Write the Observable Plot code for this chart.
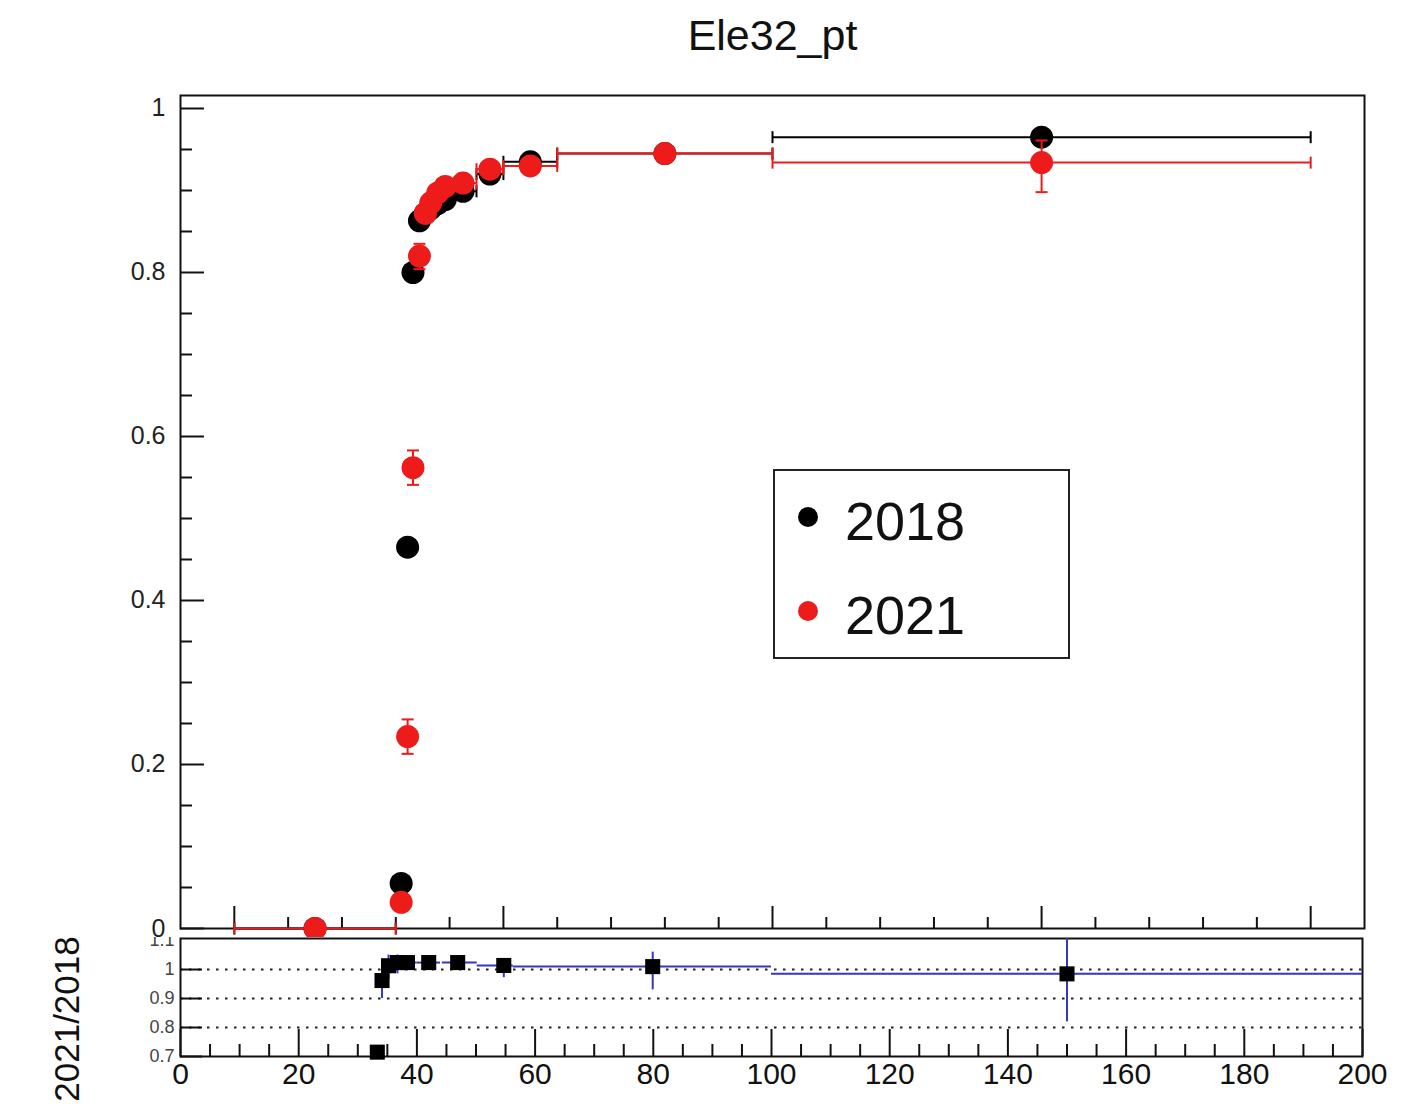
<!DOCTYPE html>
<html><head><meta charset="utf-8">
<script src="https://cdn.jsdelivr.net/npm/d3@7"></script>
<script src="https://cdn.jsdelivr.net/npm/@observablehq/plot@0.6"></script>
<style>
html,body{margin:0;padding:0;background:#fff;}
body{width:1420px;height:1106px;position:relative;overflow:hidden;font-family:"Liberation Sans",Arial,Helvetica,sans-serif;}
.abs{position:absolute;}
#strip{left:0;top:100px;width:21px;height:1006px;background:#dc5b56;}
#stripDark{left:1px;top:110px;width:15px;height:155px;background:#2c3230;}
#ratioLabel{left:66px;top:1019px;transform:translate(-50%,-50%) rotate(-90deg);white-space:nowrap;font-size:35px;line-height:1;color:#111;}
</style></head><body>
<div id="strip" class="abs"></div><div id="stripDark" class="abs"></div>
<div id="bot" class="abs" style="left:0;top:930px;"></div>
<div id="top" class="abs" style="left:0;top:0;"></div>
<div id="legend" class="abs" style="left:773px;top:469px;"></div>
<div id="ratioLabel" class="abs">2021/2018</div>
<script>
// ---------- data: efficiency vs pT (top panel) ----------
const binX   = [15, 31, 32.2, 33.2, 34.4, 35.5, 36.5, 37.8, 39.2, 42.5, 47.5, 55, 80, 150];
const binLo  = [0, 30, 32, 32.5, 34, 35, 36, 37, 38.5, 40, 45, 50, 60, 100];
const binHi  = [30, 32, 32.5, 34, 35, 36, 37, 38.5, 40, 45, 50, 60, 100, 200];
const eff2018   = [0.0, 0.055, 0.465, 0.80, 0.863, 0.872, 0.878, 0.884, 0.889, 0.899, 0.920, 0.935, 0.945, 0.965];
const err2018Lo = [0.002, 0.006, 0.008, 0.008, 0.006, 0.006, 0.005, 0.005, 0.005, 0.004, 0.004, 0.004, 0.004, 0.006];
const err2018Hi = [0.002, 0.006, 0.008, 0.008, 0.006, 0.006, 0.005, 0.005, 0.005, 0.004, 0.004, 0.004, 0.004, 0.006];
const eff2021   = [0.0, 0.032, 0.234, 0.562, 0.820, 0.872, 0.885, 0.897, 0.905, 0.909, 0.926, 0.930, 0.945, 0.934];
const err2021Lo = [0.002, 0.008, 0.021, 0.021, 0.016, 0.010, 0.008, 0.007, 0.006, 0.005, 0.005, 0.005, 0.005, 0.036];
const err2021Hi = [0.002, 0.008, 0.021, 0.021, 0.015, 0.010, 0.008, 0.007, 0.006, 0.005, 0.005, 0.005, 0.005, 0.027];

// ---------- data: ratio 2021/2018 (bottom panel) ----------
const ratioX   = [33.3, 34.1, 35.2, 36.7, 38.4, 42.0, 46.9, 54.7, 79.9, 150];
const ratioY   = [0.715, 0.962, 1.013, 1.024, 1.024, 1.024, 1.024, 1.014, 1.01, 0.985];
const ratioXLo = [33.0, 33.6, 34.8, 36.0, 37.5, 40.0, 44.3, 50.2, 56.3, 100];
const ratioXHi = [33.6, 34.8, 36.0, 37.5, 40.0, 44.0, 50.2, 56.3, 100, 200];
const ratioYLo = [0.70, 0.90, 0.965, 0.985, 1.00, 1.01, 1.01, 0.972, 0.93, 0.82];
const ratioYHi = [0.73, 0.99, 1.05, 1.05, 1.04, 1.035, 1.035, 1.03, 1.06, 1.107];

// ---------- tick labels ----------
const topYLabels   = [0, 0.2, 0.4, 0.6, 0.8, 1];
const botYLabels   = [0.7, 0.8, 0.9, 1, 1.1];
const botXLabels   = [0, 20, 40, 60, 80, 100, 120, 140, 160, 180, 200];
const ratioGrid    = [0.8, 0.9, 1];
const seriesNames  = ["2018", "2021"];
const titleText    = "Ele32_pt";

// ---------- styling ----------
const RED = "#ee1b1b", BLUE = "#3636c2", FONT = "'Liberation Sans', Arial, Helvetica, sans-serif";
const seriesColors = ["#000000", RED];

const vCap = {draw(ctx, size){ const h = Math.sqrt(size/Math.PI); ctx.moveTo(0,-h); ctx.lineTo(0,h); }};
const hCap = {draw(ctx, size){ const h = Math.sqrt(size/Math.PI); ctx.moveTo(-h,0); ctx.lineTo(h,0); }};

function makeSeries(y, eLo, eHi){
  return binX.map((x,i)=>({x, xlo: binLo[i], xhi: binHi[i], y: y[i], ylo: y[i]-eLo[i], yhi: y[i]+eHi[i]}));
}
const s2018 = makeSeries(eff2018, err2018Lo, err2018Hi);
const s2021 = makeSeries(eff2021, err2021Lo, err2021Hi);

function seriesMarks(s, c){
  return [
    Plot.ruleY(s, {y:"y", x1:"xlo", x2:"xhi", stroke:c, strokeWidth:2}),
    Plot.dot(s, {x:"xlo", y:"y", symbol:vCap, r:6, stroke:c, strokeWidth:2, fill:"none"}),
    Plot.dot(s, {x:"xhi", y:"y", symbol:vCap, r:6, stroke:c, strokeWidth:2, fill:"none"}),
    Plot.ruleX(s, {x:"x", y1:"ylo", y2:"yhi", stroke:c, strokeWidth:2}),
    Plot.dot(s, {x:"x", y:"ylo", symbol:hCap, r:6, stroke:c, strokeWidth:2, fill:"none"}),
    Plot.dot(s, {x:"x", y:"yhi", symbol:hCap, r:6, stroke:c, strokeWidth:2, fill:"none"}),
    Plot.dot(s, {x:"x", y:"y", r:11.5, fill:c, stroke:"none"})
  ];
}

// ---------- top panel ----------
const T = {w:1420, h:937, ml:180, mr:56, mt:95, mb:9};
const TFW = T.w - T.ml - T.mr, TFH = T.h - T.mt - T.mb;
const topXMajor = d3.range(0, 201, 50);
const topXMinor = d3.range(10, 200, 10).filter(v => v % 50 !== 0);
const topYMajor = topYLabels;
const topYMinor = d3.range(1, 20).map(k => k*0.05).filter((v,i) => (i+1) % 4 !== 0);

const topPlot = Plot.plot({
  width:T.w, height:T.h, marginLeft:T.ml, marginRight:T.mr, marginTop:T.mt, marginBottom:T.mb,
  style:{fontFamily:FONT, background:"#fff"},
  x:{domain:[-10, 210], axis:null, label:null},
  y:{domain:[0, 1.01585], label:null},
  marks:[
    Plot.frame({stroke:"#111", strokeWidth:2}),
    Plot.tickX(topXMajor, {x:d=>d, insetTop:TFH-22, stroke:"#111", strokeWidth:2}),
    Plot.tickX(topXMinor, {x:d=>d, insetTop:TFH-11, stroke:"#111", strokeWidth:2}),
    Plot.tickY(topYMajor, {y:d=>d, insetRight:TFW-24, stroke:"#111", strokeWidth:2}),
    Plot.tickY(topYMinor, {y:d=>d, insetRight:TFW-12, stroke:"#111", strokeWidth:2}),
    Plot.axisY({ticks:topYLabels, tickSize:0, tickPadding:15, fontSize:25, fill:"#222", tickFormat:d=>String(d), label:null}),
    ...seriesMarks(s2018, seriesColors[0]),
    ...seriesMarks(s2021, seriesColors[1]),
    Plot.text([titleText], {frameAnchor:"top", dy:-76, fontSize:43, fill:"#111", text:d=>d})
  ]
});
document.getElementById("top").appendChild(topPlot);

// ---------- bottom (ratio) panel ----------
const B = {w:1420, h:176, ml:180, mr:58, mt:8, mb:50};
const BFW = B.w - B.ml - B.mr, BFH = B.h - B.mt - B.mb;
const botXMinor = d3.range(5, 200, 5).filter(v => v % 20 !== 0);
const botYMajor = [0.7, 0.8, 0.9, 1.0];
const ratio = ratioX.map((x,i)=>({x, y:ratioY[i], xlo:ratioXLo[i], xhi:ratioXHi[i], ylo:ratioYLo[i], yhi:ratioYHi[i]}));

const botPlot = Plot.plot({
  width:B.w, height:B.h, marginLeft:B.ml, marginRight:B.mr, marginTop:B.mt, marginBottom:B.mb,
  style:{fontFamily:FONT, background:"#fff"},
  x:{domain:[0, 200], label:null},
  y:{domain:[0.7, 1.107], label:null},
  marks:[
    Plot.ruleY(ratioGrid, {y:d=>d, stroke:"#222", strokeWidth:2, strokeDasharray:"2.5 6.5"}),
    Plot.frame({stroke:"#111", strokeWidth:2}),
    Plot.tickY(botYMajor, {y:d=>d, insetRight:BFW-22, stroke:"#111", strokeWidth:2}),
    Plot.tickX(botXLabels, {x:d=>d, insetTop:BFH-27, stroke:"#111", strokeWidth:2}),
    Plot.tickX(botXMinor, {x:d=>d, insetTop:BFH-12, stroke:"#111", strokeWidth:2}),
    Plot.axisX({ticks:botXLabels, tickSize:0, tickPadding:6, fontSize:30, fill:"#111", tickFormat:d=>String(d), label:null}),
    Plot.axisY({ticks:botYLabels, tickSize:0, tickPadding:6, fontSize:18, fill:"#444", tickFormat:d=>String(d), label:null}),
    Plot.ruleY(ratio, {y:"y", x1:"xlo", x2:"xhi", stroke:BLUE, strokeWidth:2}),
    Plot.ruleX(ratio, {x:"x", y1:"ylo", y2:"yhi", stroke:BLUE, strokeWidth:2}),
    Plot.dot(ratio, {x:"x", y:"y", symbol:"square", r:8.5, fill:"#000", stroke:"none"})
  ]
});
document.getElementById("bot").appendChild(botPlot);

// ---------- legend ----------
const lg = d3.create("svg").attr("width", 298).attr("height", 192).style("font-family", FONT);
lg.append("rect").attr("x",1).attr("y",1).attr("width",295).attr("height",188)
  .attr("fill","#fff").attr("stroke","#222").attr("stroke-width",2);
seriesNames.forEach((name,i)=>{
  const cy = 48 + i*94;
  lg.append("circle").attr("cx",35).attr("cy",cy).attr("r",10).attr("fill",seriesColors[i]);
  lg.append("text").attr("x",72).attr("y",cy+23).attr("font-size",54).attr("fill","#111").text(name);
});
document.getElementById("legend").appendChild(lg.node());
</script>
</body></html>
